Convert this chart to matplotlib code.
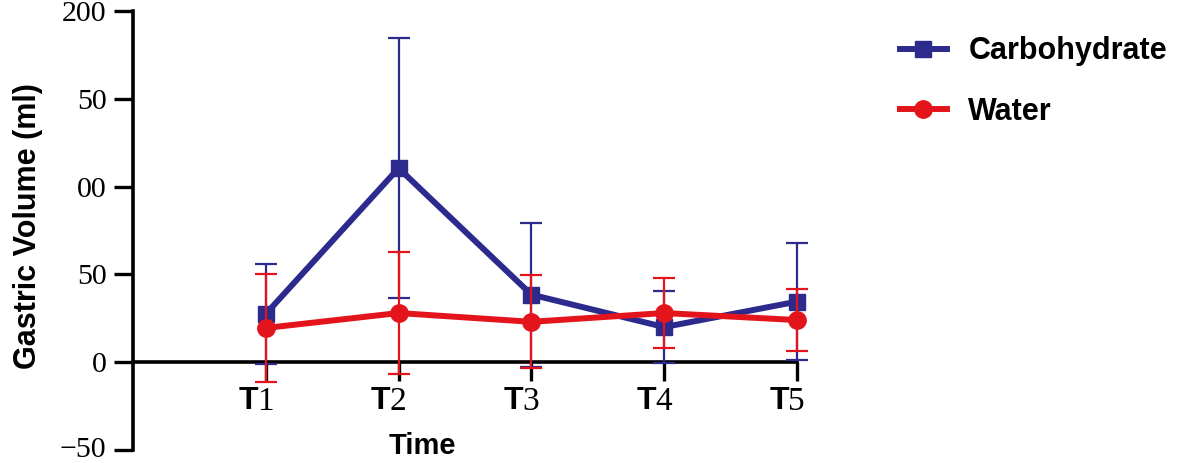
import matplotlib
matplotlib.use("Agg")
import matplotlib.pyplot as plt
import matplotlib.transforms as mtrans
from matplotlib.lines import Line2D

# data (mean, sd)
times = ["T1", "T2", "T3", "T4", "T5"]
carb_mean = [27.5, 110.5, 38.5, 20.0, 34.5]
carb_sd = [28.5, 74.0, 41.0, 20.5, 33.5]
water_mean = [19.5, 28.0, 23.0, 28.0, 24.0]
water_sd = [30.5, 34.5, 26.5, 20.0, 17.5]

ytick_vals = [-50, 0, 50, 100, 150, 200]
ytick_labels = ["\u221250", "0", "50", "00", "50", "200"]

blue = "#2d2a8e"
red = "#e3141b"

fig = plt.figure(figsize=(11.8, 4.63), dpi=100)
ax = fig.add_axes([133 / 1180, 1 - 450 / 463, (797 - 133) / 1180, 439 / 463])

x = list(range(1, len(times) + 1))

ax.errorbar(x, carb_mean, yerr=carb_sd, color=blue, lw=4.3, marker="s", ms=12,
            elinewidth=1.6, capsize=8, capthick=1.6, clip_on=False, zorder=3)
ax.errorbar(x, water_mean, yerr=water_sd, color=red, lw=4.3, marker="o", ms=12.5,
            elinewidth=1.6, capsize=8, capthick=1.6, clip_on=False, zorder=4)

ax.set_xlim(0.0, 5.0)
ax.set_ylim(-50, 200)

for s in ["top", "right"]:
    ax.spines[s].set_visible(False)
ax.spines["bottom"].set_position(("data", 0))
ax.spines["bottom"].set_linewidth(2.6)
ax.spines["left"].set_linewidth(2.6)
ax.spines["bottom"].set_zorder(2)

ax.set_yticks(ytick_vals)
ax.set_yticklabels(ytick_labels, family="Liberation Serif", fontsize=21.5)
# keep the bottom label inside the figure
ax.get_yticklabels()[0].set_va("center")
ax.tick_params(axis="y", length=14, width=2.4, pad=5)
ax.set_xticks(x)
ax.set_xticklabels([""] * len(x))
ax.tick_params(axis="x", length=14, width=2.4, direction="out")

# tick labels: bold sans "T" + serif digit
tr = mtrans.blended_transform_factory(ax.transData, fig.transFigure)
for xi, t in zip(x, times):
    ax.text(xi, 1 - 401 / 463, t[0], ha="right", va="center", fontsize=23,
            fontweight="bold", family="Liberation Sans",
            transform=tr + mtrans.ScaledTranslation(-8 / 100, 0, fig.dpi_scale_trans))
    ax.text(xi, 1 - 402 / 463, t[1:], ha="left", va="center", fontsize=24,
            family="Liberation Serif",
            transform=tr + mtrans.ScaledTranslation(-9 / 100, 0, fig.dpi_scale_trans))

fig.text(422 / 1180, 1 - 446 / 463, "Time", ha="center", va="center",
         fontsize=21, fontweight="bold", family="Liberation Sans")
fig.text(28 / 1180, 1 - 226 / 463, "Gastric Volume (ml)", ha="center", va="center",
         rotation=90, fontsize=22, fontweight="bold", family="Liberation Sans")

handles = [Line2D([], [], color=blue, lw=4.3, marker="s", ms=12),
           Line2D([], [], color=red, lw=4.3, marker="o", ms=12.5)]
fig.legend(handles, ["Carbohydrate", "Water"], loc="upper left",
           bbox_to_anchor=(872 / 1180, 1 - 9 / 463), frameon=False,
           prop={"family": "Liberation Sans", "weight": "bold", "size": 22},
           handlelength=1.55, handletextpad=0.7, labelspacing=1.0)

fig.savefig("out.png", dpi=100)
